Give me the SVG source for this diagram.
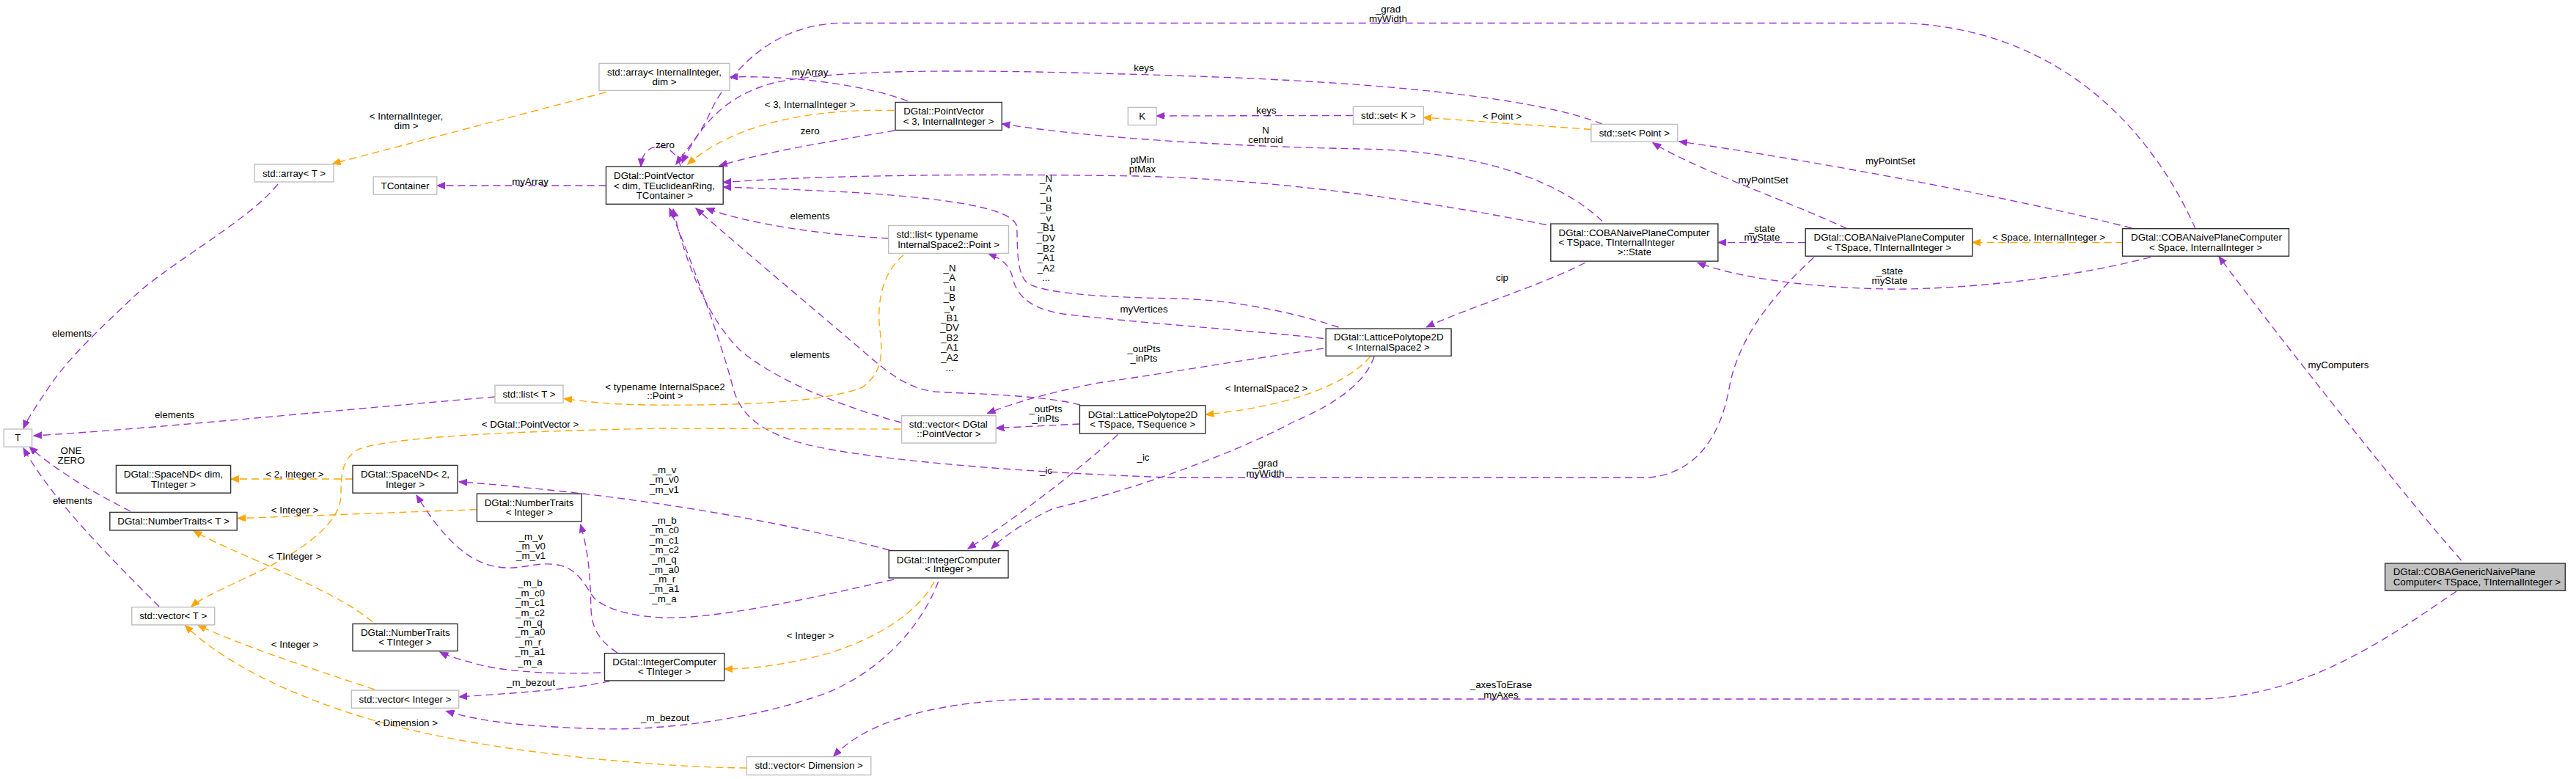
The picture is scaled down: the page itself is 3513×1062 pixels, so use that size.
<svg xmlns="http://www.w3.org/2000/svg" width="3513" height="1062" viewBox="0 0 3513 1062">
<style>
text{font-family:"Liberation Sans",Arial,Helvetica,sans-serif;font-size:13.33px;fill:#000}
.c{text-anchor:middle}
.l{text-anchor:middle}
.node rect{fill:#fff;stroke:#333;stroke-width:1.4}
.u rect{stroke:#bfbfbf}
.main rect{fill:#bfbfbf;stroke:#333}
.e{fill:none;stroke-width:1.35;stroke-dasharray:10,6}
.p{stroke:#9a32cd;marker-end:url(#ap)}
.o{stroke:#ffa500;marker-end:url(#ao)}
</style>
<defs>
<marker id="ap" markerWidth="12" markerHeight="10" refX="11" refY="4.5" orient="auto" markerUnits="userSpaceOnUse"><path d="M0,0 L11,4.5 L0,9 z" fill="#9a32cd" stroke="#9a32cd" stroke-width="1"/></marker>
<marker id="ao" markerWidth="12" markerHeight="10" refX="11" refY="4.5" orient="auto" markerUnits="userSpaceOnUse"><path d="M0,0 L11,4.5 L0,9 z" fill="#ffa500" stroke="#ffa500" stroke-width="1"/></marker>
</defs>
<rect x="0" y="0" width="3513" height="1062" fill="#fff"/>

<g id="edges">
<path class="e p" d="M379,251 C340,300 230,360 184,403 C140,445 90,490 62,535 C45,560 36,574 32,584"/>
<path class="e p" d="M675,541 C450,560 200,585 46,594"/>
<path class="e p" d="M178,697 C140,678 80,645 40,609"/>
<path class="e p" d="M217,827 C150,760 70,680 32,611"/>
<path class="e o" d="M826.6,125.7 L453.5,223.2"/>
<path class="e p" d="M826.5,253 L596,253"/>
<path class="e p" d="M928,226 C922,205 905,198 895,200 C882,202 875,212 874,227"/>
<path class="e p" d="M1237.8,138 C1200,122 1100,102 995.4,105"/>
<path class="e o" d="M1219.4,150.5 C1100,148 1000,170 937.8,224"/>
<path class="e p" d="M1220,178 C1150,190 1050,205 981,226"/>
<path class="e p" d="M2994,311.7 C2940,190 2820,40 2596,31.5 L1150,31.5 C1060,31.5 1000,90 970,150 C955,185 935,205 922,224"/>
<path class="e p" d="M2185,169 C2100,135 1900,112 1600,103 C1350,95 1150,92 1055,113 C990,130 955,170 930,222"/>
<path class="e p" d="M1845,157.5 L1577,158"/>
<path class="e o" d="M2170,176.5 L1941.3,160"/>
<path class="e p" d="M2185,301.4 C2120,240 2000,205 1856,203 C1700,200 1500,190 1366.3,168.8"/>
<path class="e p" d="M2108.7,306.5 C1950,275 1750,245 1550,240 C1300,236 1100,240 986.2,248.7"/>
<path class="e p" d="M1825.5,446 C1760,425 1680,408 1600,407 C1500,405 1420,400 1400,385 C1385,370 1388,330 1386.7,310 C1386,290 1330,272 1157,262 C1080,258 1020,256 986.2,255"/>
<path class="e p" d="M1805,461.5 C1700,450 1550,440 1450,428 C1400,420 1385,400 1380,375 C1375,360 1365,352 1348,346"/>
<path class="e p" d="M1805,475 C1700,490 1550,515 1500,521.6 C1430,535 1380,550 1346.6,563.5"/>
<path class="e p" d="M1472.4,578 L1358.4,583.7"/>
<path class="e p" d="M1473,552 C1420,538 1320,537 1275,534 C1240,530 1215,510 1196,495 C1150,455 1030,355 949,284"/>
<path class="e p" d="M1212,325 C1120,320 1020,305 963,284"/>
<path class="e p" d="M1229,576 C1150,555 1060,520 1010,478 C975,445 940,380 918,285"/>
<path class="e p" d="M2473.5,351 C2420,400 2370,460 2358,530 C2345,600 2310,645 2249,651 L1600,651 C1400,645 1150,625 1080,600 C1035,585 1010,565 1000,530 C985,470 945,360 913,284"/>
<path class="e o" d="M1869,485.6 C1845,515 1780,552 1644.4,565"/>
<path class="e p" d="M1874,486 C1860,530 1800,560 1764,575 C1700,610 1560,665 1437,693 C1400,710 1370,730 1352,748"/>
<path class="e p" d="M1524.5,592.6 C1460,650 1380,710 1320,748"/>
<path class="e p" d="M2162,358 C2100,390 2000,420 1945.4,446"/>
<path class="e p" d="M2462,330.6 L2342.9,330.6"/>
<path class="e p" d="M2932.7,350.6 C2800,385 2650,395 2575,394 C2450,392 2360,375 2315,358"/>
<path class="e p" d="M2519,311.7 C2460,285 2400,262 2350,241 C2300,220 2270,205 2254,194.6"/>
<path class="e p" d="M2907,311 C2750,270 2450,215 2290,193"/>
<path class="e o" d="M2895.4,330.6 L2689.8,330.6"/>
<path class="e p" d="M3356.7,764 C3290,690 3100,450 3026,349.6"/>
<path class="e p" d="M3350,806 C3270,860 3150,950 3000,953 L1412,953 C1300,955 1190,975 1136.7,1031"/>
<path class="e o" d="M1018,1047 C900,1046 700,1028 560,995 C430,965 310,910 252.6,852.5"/>
<path class="e o" d="M511,940 C420,910 330,880 270,852.5"/>
<path class="e o" d="M1228.6,585 L900,584 C700,588 540,595 490,612 C465,625 465,650 465,675 C465,710 420,750 330,790 C300,805 275,815 261,827"/>
<path class="e o" d="M1232,347.8 C1205,370 1195,410 1200,450 C1205,490 1200,510 1176,528 C1120,550 1000,553 880,552 C820,551 790,546 769,543.5"/>
<path class="e o" d="M650.4,694.6 L324,706.7"/>
<path class="e o" d="M508,847.7 C450,800 330,760 264,724"/>
<path class="e o" d="M481,653 L314.6,653"/>
<path class="e p" d="M1213,750 C1100,720 950,690 768,670 C700,663 660,659 626,657"/>
<path class="e p" d="M1219,790 C1130,810 980,845 903,842 C860,840 825,830 810,815 C798,800 790,775 760,770 C730,765 710,778 680,773 C640,768 605,735 568,675"/>
<path class="e p" d="M842,890 C820,875 807,860 806,830 C805,800 805,760 791.6,715"/>
<path class="e p" d="M819,917 C750,920 680,915 642,903 C620,897 608,893 600,889"/>
<path class="e p" d="M831.5,928.6 C780,940 700,945 626,950"/>
<path class="e p" d="M1279.6,793 C1250,870 1180,930 1106,952 C1020,980 900,998 800,993 C720,990 660,985 608.4,969.4"/>
<path class="e o" d="M1274,793 C1250,840 1180,880 1105,897 C1050,910 1010,912 987.8,912"/>

<text class="l" x="98" y="458.5">elements</text>
<text class="l" x="238" y="570">elements</text>
<text class="l" x="97" y="618.5">ONE</text>
<text class="l" x="97" y="631.5">ZERO</text>
<text class="l" x="99" y="687">elements</text>
<text class="l" x="554" y="163">&lt; InternalInteger,</text>
<text class="l" x="554" y="175.7">dim &gt;</text>
<text class="l" x="723" y="251.5">myArray</text>
<text class="l" x="907" y="201.5">zero</text>
<text class="l" x="1104.6" y="103.3">myArray</text>
<text class="l" x="1104.6" y="147">&lt; 3, InternalInteger &gt;</text>
<text class="l" x="1104.6" y="183.2">zero</text>
<text class="l" x="1893" y="16.5">_grad</text>
<text class="l" x="1893" y="29.6">myWidth</text>
<text class="l" x="1560" y="96.5">keys</text>
<text class="l" x="1727" y="155">keys</text>
<text class="l" x="2048.5" y="163.3">&lt; Point &gt;</text>
<text class="l" x="1726" y="182">N</text>
<text class="l" x="1726" y="195">centroid</text>
<text class="l" x="1558" y="222.2">ptMin</text>
<text class="l" x="1558" y="235.2">ptMax</text>
<text class="l" x="1426.5" y="247.7"><tspan x="1426.5" dy="0">_N</tspan><tspan x="1426.5" dy="13.55">_A</tspan><tspan x="1426.5" dy="13.55">_u</tspan><tspan x="1426.5" dy="13.55">_B</tspan><tspan x="1426.5" dy="13.55">_v</tspan><tspan x="1426.5" dy="13.55">_B1</tspan><tspan x="1426.5" dy="13.55">_DV</tspan><tspan x="1426.5" dy="13.55">_B2</tspan><tspan x="1426.5" dy="13.55">_A1</tspan><tspan x="1426.5" dy="13.55">_A2</tspan><tspan x="1426.5" dy="13.55">...</tspan></text>
<text class="l" x="1560" y="426.4">myVertices</text>
<text class="l" x="1560" y="479.5">_outPts</text>
<text class="l" x="1560" y="493">_inPts</text>
<text class="l" x="1426" y="562">_outPts</text>
<text class="l" x="1426" y="575">_inPts</text>
<text class="l" x="1295" y="369.5"><tspan x="1295" dy="0">_N</tspan><tspan x="1295" dy="13.6">_A</tspan><tspan x="1295" dy="13.6">_u</tspan><tspan x="1295" dy="13.6">_B</tspan><tspan x="1295" dy="13.6">_v</tspan><tspan x="1295" dy="13.6">_B1</tspan><tspan x="1295" dy="13.6">_DV</tspan><tspan x="1295" dy="13.6">_B2</tspan><tspan x="1295" dy="13.6">_A1</tspan><tspan x="1295" dy="13.6">_A2</tspan><tspan x="1295" dy="13.6">...</tspan></text>
<text class="l" x="1104.6" y="299.3">elements</text>
<text class="l" x="1104.6" y="487.5">elements</text>
<text class="l" x="1725.5" y="636.2">_grad</text>
<text class="l" x="1725.5" y="649.5">myWidth</text>
<text class="l" x="1727" y="534.2">&lt; InternalSpace2 &gt;</text>
<text class="l" x="1559" y="628.2">_ic</text>
<text class="l" x="1426.5" y="646.2">_ic</text>
<text class="l" x="2048.5" y="383.3">cip</text>
<text class="l" x="2403" y="315.5">_state</text>
<text class="l" x="2403" y="328.2">myState</text>
<text class="l" x="2577" y="374">_state</text>
<text class="l" x="2577" y="386.8">myState</text>
<text class="l" x="2404.6" y="250">myPointSet</text>
<text class="l" x="2578" y="223.9">myPointSet</text>
<text class="l" x="2794" y="328.2">&lt; Space, InternalInteger &gt;</text>
<text class="l" x="3189" y="502.2">myComputers</text>
<text class="l" x="2047" y="938.3">_axesToErase</text>
<text class="l" x="2047" y="951.5">myAxes</text>
<text class="l" x="554" y="990.2">&lt; Dimension &gt;</text>
<text class="l" x="402" y="883.3">&lt; Integer &gt;</text>
<text class="l" x="723" y="583.3">&lt; DGtal::PointVector &gt;</text>
<text class="l" x="907" y="531.5">&lt; typename InternalSpace2</text>
<text class="l" x="907" y="544.2">::Point &gt;</text>
<text class="l" x="402" y="699.8">&lt; Integer &gt;</text>
<text class="l" x="402" y="763">&lt; TInteger &gt;</text>
<text class="l" x="402" y="651.4">&lt; 2, Integer &gt;</text>
<text class="l" x="906" y="645"><tspan x="906" dy="0">_m_v</tspan><tspan x="906" dy="13.3">_m_v0</tspan><tspan x="906" dy="13.3">_m_v1</tspan></text>
<text class="l" x="724" y="735.5"><tspan x="724" dy="0">_m_v</tspan><tspan x="724" dy="13.3">_m_v0</tspan><tspan x="724" dy="13.3">_m_v1</tspan></text>
<text class="l" x="906" y="714"><tspan x="906" dy="0">_m_b</tspan><tspan x="906" dy="13.35">_m_c0</tspan><tspan x="906" dy="13.35">_m_c1</tspan><tspan x="906" dy="13.35">_m_c2</tspan><tspan x="906" dy="13.35">_m_q</tspan><tspan x="906" dy="13.35">_m_a0</tspan><tspan x="906" dy="13.35">_m_r</tspan><tspan x="906" dy="13.35">_m_a1</tspan><tspan x="906" dy="13.35">_m_a</tspan></text>
<text class="l" x="723" y="799.3"><tspan x="723" dy="0">_m_b</tspan><tspan x="723" dy="13.4">_m_c0</tspan><tspan x="723" dy="13.4">_m_c1</tspan><tspan x="723" dy="13.4">_m_c2</tspan><tspan x="723" dy="13.4">_m_q</tspan><tspan x="723" dy="13.4">_m_a0</tspan><tspan x="723" dy="13.4">_m_r</tspan><tspan x="723" dy="13.4">_m_a1</tspan><tspan x="723" dy="13.4">_m_a</tspan></text>
<text class="l" x="724" y="934.5">_m_bezout</text>
<text class="l" x="907" y="983.2">_m_bezout</text>
<text class="l" x="1105" y="871.2">&lt; Integer &gt;</text>
</g>

<g id="n_array_ii" class="node u"><rect x="817" y="86.4" width="178" height="37"/><text x="828" y="103.3">std::array&lt; InternalInteger,</text><text class="c" x="906" y="116.1">dim &gt;</text></g>
<g id="n_array_t" class="node u"><rect x="347" y="224" width="108" height="24"/><text class="c" x="401" y="240.5">std::array&lt; T &gt;</text></g>
<g id="n_tcontainer" class="node u"><rect x="509.2" y="241" width="86.6" height="24.2"/><text class="c" x="552.5" y="257.6">TContainer</text></g>
<g id="n_pv_dim" class="node"><rect x="826.5" y="227.3" width="159.7" height="51"/><text x="837" y="244.2">DGtal::PointVector</text><text x="837" y="258">&lt; dim, TEuclideanRing,</text><text class="c" x="906.4" y="270.7">TContainer &gt;</text></g>
<g id="n_pv_3" class="node"><rect x="1221" y="139.5" width="145.3" height="38"/><text x="1232.2" y="156">DGtal::PointVector</text><text class="c" x="1293.6" y="170.2">&lt; 3, InternalInteger &gt;</text></g>
<g id="n_k" class="node u"><rect x="1538.3" y="146.4" width="38.7" height="24.1"/><text class="c" x="1557.6" y="163">K</text></g>
<g id="n_set_k" class="node u"><rect x="1845.4" y="145.3" width="95.9" height="24.1"/><text class="c" x="1893.4" y="161.9">std::set&lt; K &gt;</text></g>
<g id="n_set_point" class="node u"><rect x="2169.9" y="169.4" width="117.8" height="23.8"/><text class="c" x="2228.8" y="186">std::set&lt; Point &gt;</text></g>
<g id="n_state" class="node"><rect x="2114.8" y="305.1" width="228.1" height="51"/><text x="2125.5" y="322">DGtal::COBANaivePlaneComputer</text><text x="2125.5" y="335.1">&lt; TSpace, TInternalInteger</text><text class="c" x="2228.9" y="347.9">&gt;::State</text></g>
<g id="n_coba_t" class="node"><rect x="2462.2" y="311.7" width="227.6" height="37.5"/><text x="2473.5" y="328.2">DGtal::COBANaivePlaneComputer</text><text class="c" x="2576" y="342">&lt; TSpace, TInternalInteger &gt;</text></g>
<g id="n_coba_s" class="node"><rect x="2894.5" y="311.7" width="227" height="37.5"/><text x="2906" y="328.2">DGtal::COBANaivePlaneComputer</text><text class="c" x="3008" y="342">&lt; Space, InternalInteger &gt;</text></g>
<g id="n_generic" class="node main"><rect x="3252.6" y="768" width="245.7" height="37.3"/><text x="3263.7" y="783.8">DGtal::COBAGenericNaivePlane</text><text x="3263.7" y="797.9">Computer&lt; TSpace, TInternalInteger &gt;</text></g>
<g id="n_list_pt" class="node u"><rect x="1211.7" y="307.5" width="163.8" height="37.9"/><text x="1222.5" y="324.1">std::list&lt; typename</text><text class="c" x="1293.6" y="337.9">InternalSpace2::Point &gt;</text></g>
<g id="n_lp_is2" class="node"><rect x="1808.2" y="448.1" width="170.9" height="37.2"/><text x="1818.9" y="463.9">DGtal::LatticePolytope2D</text><text class="c" x="1893.6" y="478.4">&lt; InternalSpace2 &gt;</text></g>
<g id="n_lp_ts" class="node"><rect x="1472.4" y="552.8" width="171.5" height="38.1"/><text x="1483.7" y="569.8">DGtal::LatticePolytope2D</text><text class="c" x="1558.2" y="583.3">&lt; TSpace, TSequence &gt;</text></g>
<g id="n_vec_pv" class="node u"><rect x="1229.6" y="566.7" width="128.6" height="37.3"/><text x="1239.8" y="583.3">std::vector&lt; DGtal</text><text class="c" x="1293.9" y="596.1">::PointVector &gt;</text></g>
<g id="n_ic_int" class="node"><rect x="1212.2" y="750.6" width="162.8" height="37.3"/><text class="c" x="1293.6" y="767.5">DGtal::IntegerComputer</text><text class="c" x="1293.6" y="780.3">&lt; Integer &gt;</text></g>
<g id="n_ic_tint" class="node"><rect x="824.5" y="890.6" width="163.3" height="37.3"/><text class="c" x="906.1" y="907.2">DGtal::IntegerComputer</text><text class="c" x="906.1" y="920.3">&lt; TInteger &gt;</text></g>
<g id="n_vec_dim" class="node u"><rect x="1018.4" y="1031.6" width="169.4" height="24.9"/><text class="c" x="1103.1" y="1048.2">std::vector&lt; Dimension &gt;</text></g>
<g id="n_t" class="node u"><rect x="5.2" y="585" width="38.4" height="24.2"/><text class="c" x="24.4" y="601.2">T</text></g>
<g id="n_list_t" class="node u"><rect x="675" y="525.2" width="93" height="24.2"/><text class="c" x="721.5" y="541.8">std::list&lt; T &gt;</text></g>
<g id="n_space_dim" class="node"><rect x="158.4" y="634.4" width="156.2" height="37.7"/><text x="168.8" y="651.4">DGtal::SpaceND&lt; dim,</text><text class="c" x="236.5" y="664.5">TInteger &gt;</text></g>
<g id="n_nt_t" class="node"><rect x="149.8" y="698.4" width="173.4" height="24.5"/><text class="c" x="236.5" y="715.3">DGtal::NumberTraits&lt; T &gt;</text></g>
<g id="n_space_2" class="node"><rect x="481" y="634.4" width="143" height="37.7"/><text x="491.9" y="651.4">DGtal::SpaceND&lt; 2,</text><text class="c" x="552.5" y="664.5">Integer &gt;</text></g>
<g id="n_nt_int" class="node"><rect x="650.4" y="673.1" width="142.9" height="37.7"/><text x="660.7" y="690.1">DGtal::NumberTraits</text><text class="c" x="721.9" y="703.2">&lt; Integer &gt;</text></g>
<g id="n_vec_t" class="node u"><rect x="179.7" y="827.7" width="113" height="24.2"/><text class="c" x="236.2" y="844.3">std::vector&lt; T &gt;</text></g>
<g id="n_nt_tint" class="node"><rect x="481" y="850.5" width="143" height="37"/><text x="491.9" y="867.1">DGtal::NumberTraits</text><text class="c" x="552.5" y="880.2">&lt; TInteger &gt;</text></g>
<g id="n_vec_int" class="node u"><rect x="479.3" y="941" width="146.4" height="24.3"/><text class="c" x="552.5" y="958">std::vector&lt; Integer &gt;</text></g>
</svg>
